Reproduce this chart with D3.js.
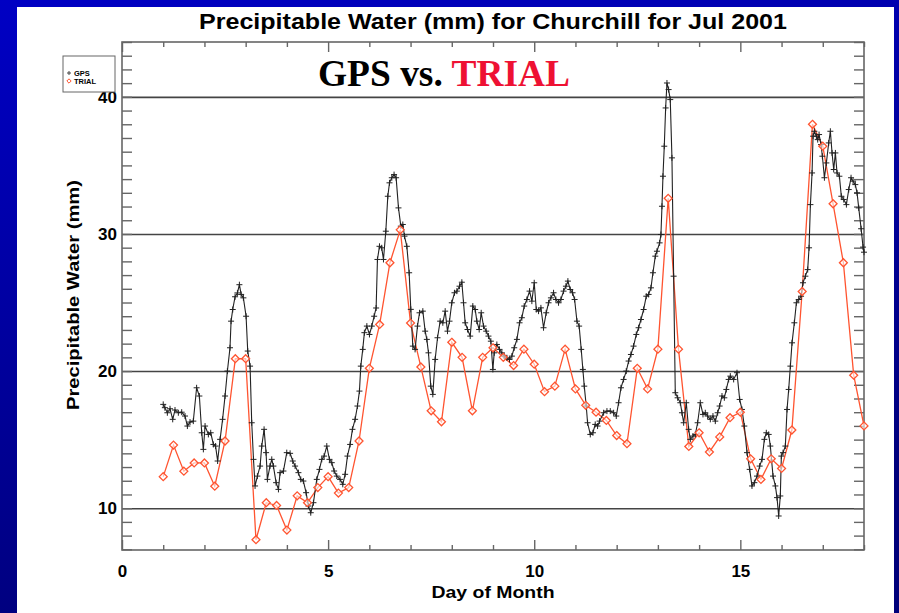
<!DOCTYPE html>
<html><head><meta charset="utf-8">
<script src="https://cdn.jsdelivr.net/npm/d3@7"></script>
<style>html,body{margin:0;padding:0;background:#000090;}svg{display:block;}</style>
</head><body>
<svg id="chart" width="899" height="613"></svg>
<script>
// ---- DATA ----
const title = "Precipitable Water (mm) for Churchill for Jul 2001";
const xLabel = "Day of Month";
const yLabel = "Precipitable Water (mm)";
const xTickLabels = [0, 5, 10, 15];
const yTickLabels = [10, 20, 30, 40];
const seriesNames = ["GPS", "TRIAL"];

const gpsDay = [1.00,1.04,1.10,1.165,1.23,1.286,1.367,1.448,1.529,1.586,1.65,1.73,1.81,1.877,1.934,1.974,2.015,2.095,2.152,2.217,2.27,2.32,2.38,2.44,2.50,2.557,2.62,2.646,2.686,2.743,2.80,2.848,2.89,2.945,3.01,3.05,3.107,3.147,3.19,3.228,3.285,3.35,3.39,3.447,3.495,3.527,3.59,
3.633,3.673,3.738,3.795,3.835,3.916,3.997,4.078,4.142,4.199,4.28,4.337,4.40,4.466,4.523,4.579,4.644,4.725,4.79,4.846,4.903,4.968,5.032,5.089,5.146,5.21,5.29,5.356,5.413,5.469,5.534,5.59,5.655,5.712,5.76,5.793,5.84,5.88,5.94,6.003,6.06,6.117,6.165,6.197,6.246,6.30,6.343,6.40,6.448,6.489,6.545,6.60,6.65,6.707,6.764,6.812,6.853,6.91,6.966,7.006,
7.055,7.11,7.168,7.217,7.298,7.354,7.395,7.435,7.49,7.54,7.597,7.654,7.718,7.783,7.84,7.896,7.945,8.0,8.066,8.123,8.188,8.244,8.285,8.325,8.382,8.447,8.511,8.568,8.608,8.665,8.714,8.77,8.835,8.89,8.948,8.997,9.029,9.094,9.158,9.215,9.27,9.337,9.40,9.458,9.515,9.58,9.644,9.70,9.757,9.822,9.887,9.943,10.0,10.05,10.105,10.162,10.226,10.29,10.348,10.405,10.469,10.526,10.59,10.647,10.712,10.769,10.817,10.874,10.93,10.98,11.036,11.09,11.14,11.18,11.214,11.262,11.294,11.36,11.424,11.48,11.537,11.586,
11.683,11.764,11.845,11.926,11.99,12.047,12.104,12.168,12.233,12.29,12.346,12.41,12.476,12.532,12.589,12.654,12.718,12.775,12.832,12.88,12.937,12.977,13.042,13.074,13.099,13.123,13.155,13.188,13.22,13.26,13.30,13.341,13.382,13.422,13.479,13.544,13.584,13.625,13.689,13.746,13.786,13.851,13.908,13.964,14.029,14.094,14.15,14.207,14.272,14.336,14.393,14.45,14.498,14.555,14.612,14.66,14.717,
14.757,14.838,14.919,14.984,15.04,15.097,15.162,15.227,15.283,15.34,15.405,15.469,15.526,15.583,15.63,15.688,15.728,15.793,15.85,15.89,15.93,15.97,15.995,16.036,16.092,16.133,16.173,16.214,16.254,16.31,16.36,16.416,16.473,16.52,16.578,16.634,16.667,16.70,16.74,16.764,16.796,16.845,16.877,16.91,16.958,16.99,17.04,17.087,17.144,17.184,17.225,17.265,17.306,17.346,17.403,17.45,17.508,17.573,17.63,17.686,17.735,17.79,17.832,17.872,17.93,17.977,18.0];

const gpsPW = [17.57,17.33,16.96,17.25,16.48,17.16,16.96,17.0,16.72,15.99,16.28,16.35,18.78,18.18,15.5,14.29,15.99,15.38,15.5,14.65,14.53,13.44,15.02,16.48,18.18,20.0,21.7,23.64,24.49,25.42,25.7,26.3,25.59,25.34,24.0,21.46,20.36,16.23,13.56,11.62,12.34,13.07,14.53,15.75,14.05,12.1,13.07,
13.56,13.07,11.86,11.37,12.59,12.71,14.05,14.0,13.44,13.07,12.59,12.1,11.98,11.13,10.16,9.67,10.4,12.1,12.83,13.56,13.8,14.53,13.56,13.32,12.71,12.34,12.1,11.74,12.47,13.8,14.65,15.75,16.48,17.45,18.54,20.36,21.58,22.8,23.28,22.67,23.28,24.0,24.6,28.14,29.1,28.99,28.14,30.2,32.75,33.73,34.1,34.33,34.1,31.9,30.57,30.69,29.84,29.1,27.17,24.5,
21.82,21.58,23.28,24.25,24.37,22.91,22.31,21.33,18.9,18.3,20.85,22.43,23.64,23.52,24.37,22.91,23.64,24.98,25.71,25.83,26.19,26.48,24.98,23.52,23.03,22.55,24.74,24.49,23.64,23.03,24.25,23.28,22.91,22.55,22.18,20.12,21.33,21.94,21.58,21.33,21.09,20.97,20.85,21.09,21.7,22.31,23.52,23.89,24.74,25.22,25.83,25.1,26.44,24.49,24.37,24.61,23.16,24.25,24.98,25.34,25.71,25.22,24.98,25.22,25.83,26.19,26.56,25.95,25.71,25.22,23.64,23.28,21.58,20.12,18.9,17.45,16.23,15.38,15.5,16.11,15.99,16.35,
16.96,17.08,17.08,16.96,16.72,17.69,18.78,19.39,20.0,20.73,21.21,21.82,22.67,23.16,23.76,24.49,25.46,25.59,26.07,27.17,28.38,28.74,29.35,29.96,32.02,34.21,36.4,39.19,41.01,40.53,39.8,35.55,26.92,18.42,18.05,17.69,16.96,16.23,17.69,15.75,15.02,15.26,15.38,16.23,17.69,16.84,16.96,16.72,16.48,16.72,16.35,16.96,17.45,18.18,18.05,18.66,19.39,
19.63,19.39,19.88,17.93,17.2,15.99,14.05,12.83,11.62,11.86,12.34,13.07,13.56,15.02,15.5,15.38,14.53,12.34,11.62,10.77,9.43,10.89,13.8,14.05,14.53,17.2,18.66,20.36,22.06,23.52,24.98,25.22,25.46,26.44,26.92,27.4,28.99,32.14,34.45,37.13,37.49,37.13,36.88,37.25,36.52,35.67,34.1,35.18,36.64,37.49,35.91,34.7,35.91,34.45,34.21,32.75,32.51,32.14,33.24,34.1,33.85,33.6,33.0,31.9,30.38,29.04,28.67];

const trialDay = [1.0,1.25,1.5,1.75,2.0,2.25,2.5,2.75,3.0,3.25,3.5,3.75,4.0,4.25,4.5,4.75,5.0,5.25,5.5,5.75,6.0,6.25,6.5,6.75,7.0,7.25,7.5,7.75,8.0,8.25,8.5,8.75,9.0,9.25,9.5,9.75,10.0,10.25,10.5,10.75,11.0,11.25,11.5,11.75,12.0,12.25,12.5,12.75,13.0,13.25,13.5,13.75,14.0,14.25,14.5,14.75,15.0,15.25,15.5,15.75,16.0,16.25,16.5,16.75,17.0,17.25,17.5,17.75,18.0];
const trialPW = [12.3,14.6,12.7,13.3,13.3,11.6,14.9,20.9,20.9,7.7,10.4,10.2,8.4,10.9,10.4,11.5,12.3,11.1,11.5,14.9,20.2,23.4,27.9,30.3,23.5,20.3,17.1,16.3,22.1,21.0,17.1,21.0,21.7,21.0,20.4,21.6,20.5,18.5,18.9,21.6,18.7,17.5,17.0,16.4,15.3,14.7,20.2,18.7,21.6,32.6,21.6,14.5,15.5,14.1,15.2,16.6,17.0,13.6,12.1,13.6,12.9,15.7,25.8,38.0,36.4,32.2,27.9,19.7,16.0];

// ---- LAYOUT ----
const W = 899, H = 613;
const plot = {left: 122, right: 864, top: 42, bottom: 550};
const gpsColor = "#222222", trialColor = "#ff5430";

const svg = d3.select("#chart");
const defs = svg.append("defs");
const grad = defs.append("linearGradient").attr("id","bg").attr("x1","0").attr("y1","0").attr("x2","0.3").attr("y2","1");
grad.append("stop").attr("offset","0").attr("stop-color","#0000c4");
grad.append("stop").attr("offset","1").attr("stop-color","#00007a");
svg.append("rect").attr("width",W).attr("height",H).attr("fill","url(#bg)");
svg.append("rect").attr("x",17).attr("y",7).attr("width",877).attr("height",H-7).attr("fill","#ffffff");

const x = d3.scaleLinear().domain([0,18]).range([plot.left, plot.right]);
const y = d3.scaleLinear().domain([6.95,44]).range([plot.bottom, plot.top]);
const pw = plot.right - plot.left, ph = plot.bottom - plot.top;

const g = svg.append("g");
const font = "'Liberation Sans', Arial, sans-serif";

// gridlines at major y ticks
g.append("g").attr("transform",`translate(${plot.left},0)`)
  .call(d3.axisLeft(y).tickValues(yTickLabels).tickSize(-pw).tickFormat(""))
  .call(s=>{s.select(".domain").remove(); s.selectAll("line").attr("stroke","#444").attr("stroke-width",1.6);});

// minor y ticks left & right
g.append("g").attr("transform",`translate(${plot.left},0)`)
  .call(d3.axisLeft(y).tickValues(d3.range(7,45)).tickSize(-10).tickFormat(""))
  .call(s=>{s.select(".domain").remove(); s.selectAll("line").attr("stroke","#666").attr("stroke-width",1.4);});
g.append("g").attr("transform",`translate(${plot.right},0)`)
  .call(d3.axisRight(y).tickValues(d3.range(7,45)).tickSize(-10).tickFormat(""))
  .call(s=>{s.select(".domain").remove(); s.selectAll("line").attr("stroke","#666").attr("stroke-width",1.4);});

// y labels
g.append("g").attr("transform",`translate(${plot.left},0)`)
  .call(d3.axisLeft(y).tickValues(yTickLabels).tickSize(0).tickPadding(5))
  .call(s=>{s.select(".domain").remove(); s.selectAll("text").attr("font-family",font).attr("font-weight","bold").attr("font-size",17).attr("fill","#000");});

// x ticks bottom & top
const minorX = d3.range(0,19).filter(d=>d%5!==0);
[[d3.axisBottom, plot.bottom],[d3.axisTop, plot.top]].forEach(([ax,pos])=>{
  g.append("g").attr("transform",`translate(0,${pos})`)
    .call(ax(x).tickValues(minorX).tickSize(-5).tickFormat(""))
    .call(s=>{s.select(".domain").remove(); s.selectAll("line").attr("stroke","#666").attr("stroke-width",1.4);});
  g.append("g").attr("transform",`translate(0,${pos})`)
    .call(ax(x).tickValues(xTickLabels).tickSize(-10).tickFormat(""))
    .call(s=>{s.select(".domain").remove(); s.selectAll("line").attr("stroke","#666").attr("stroke-width",1.4);});
});
g.append("g").attr("transform",`translate(0,${plot.bottom})`)
  .call(d3.axisBottom(x).tickValues(xTickLabels).tickSize(0).tickPadding(15))
  .call(s=>{s.select(".domain").remove(); s.selectAll("text").attr("font-family",font).attr("font-weight","bold").attr("font-size",17).attr("fill","#000");});

// frame
g.append("rect").attr("x",plot.left).attr("y",plot.top).attr("width",pw).attr("height",ph)
  .attr("fill","none").attr("stroke","#666").attr("stroke-width",1.6);

// series
const gps = gpsDay.map((d,i)=>[d,gpsPW[i]]);
const trial = trialDay.map((d,i)=>[d,trialPW[i]]);
const line = d3.line().x(d=>x(d[0])).y(d=>y(d[1]));

g.append("path").datum(trial).attr("d",line).attr("fill","none").attr("stroke",trialColor).attr("stroke-width",1.3);
g.append("path").datum(gps).attr("d",line).attr("fill","none").attr("stroke",gpsColor).attr("stroke-width",1.1);

g.append("g").selectAll("path").data(gps).join("path")
  .attr("transform",d=>`translate(${x(d[0])},${y(d[1])})`)
  .attr("d","M-3,0H3M0,-3V3").attr("stroke",gpsColor).attr("stroke-width",1).attr("fill","none");

const diamond = d3.symbol().type(d3.symbolDiamond2).size(40);
g.append("g").selectAll("path").data(trial).join("path")
  .attr("transform",d=>`translate(${x(d[0])},${y(d[1])})`)
  .attr("d",diamond).attr("fill","#fff").attr("fill-opacity",0.6).attr("stroke",trialColor).attr("stroke-width",1.3);

// legend
const lg = svg.append("g");
lg.append("rect").attr("x",63).attr("y",56).attr("width",52).attr("height",36).attr("fill","#fff").attr("stroke","#666").attr("stroke-width",1);
lg.append("path").attr("transform","translate(69,73)").attr("d","M-2,0H2M0,-2V2").attr("stroke","#444").attr("stroke-width",1);
lg.append("path").attr("transform","translate(69,81)").attr("d",d3.symbol().type(d3.symbolDiamond2).size(12)).attr("fill","none").attr("stroke",trialColor).attr("stroke-width",1);
lg.append("text").attr("x",74).attr("y",76).text(seriesNames[0]).attr("font-family",font).attr("font-weight","bold").attr("font-size",7.5).attr("fill","#000");
lg.append("text").attr("x",74).attr("y",84).text(seriesNames[1]).attr("font-family",font).attr("font-weight","bold").attr("font-size",7.5).attr("fill","#000");

// titles
svg.append("text").attr("x",493).attr("y",29).attr("text-anchor","middle").text(title)
  .attr("font-family",font).attr("font-weight","bold").attr("font-size",22).attr("textLength",588).attr("lengthAdjust","spacingAndGlyphs").attr("fill","#000");
const sub = svg.append("text").attr("x",318).attr("y",86).attr("font-family","'Liberation Serif', 'Times New Roman', serif").attr("font-weight","bold").attr("font-size",38).attr("textLength",252).attr("lengthAdjust","spacingAndGlyphs");
sub.append("tspan").text("GPS vs. ").attr("fill","#000");
sub.append("tspan").text("TRIAL").attr("fill","#ee1133");

svg.append("text").attr("x",493).attr("y",598).attr("text-anchor","middle").text(xLabel)
  .attr("font-family",font).attr("font-weight","bold").attr("font-size",17).attr("textLength",123).attr("lengthAdjust","spacingAndGlyphs").attr("fill","#000");
svg.append("text").attr("transform","translate(79,295) rotate(-90)").attr("text-anchor","middle").text(yLabel)
  .attr("font-family",font).attr("font-weight","bold").attr("font-size",17).attr("textLength",230).attr("lengthAdjust","spacingAndGlyphs").attr("fill","#000");
</script>
</body></html>
